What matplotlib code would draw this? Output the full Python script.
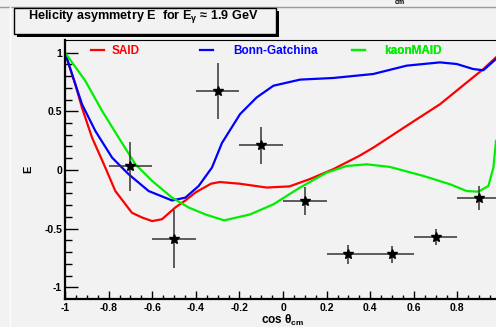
import matplotlib
matplotlib.use("Agg")
import matplotlib.pyplot as plt
from matplotlib.patches import Rectangle
from matplotlib.lines import Line2D

plt.rcParams["font.family"] = ["Liberation Sans", "DejaVu Sans"]
plt.rcParams["font.weight"] = "bold"
plt.rcParams["axes.labelweight"] = "bold"
plt.rcParams["mathtext.fontset"] = "custom"
plt.rcParams["mathtext.rm"] = "Liberation Sans:bold"
plt.rcParams["mathtext.it"] = "Liberation Sans:bold"
plt.rcParams["mathtext.bf"] = "Liberation Sans:bold"
plt.rcParams["mathtext.default"] = "rm"

# model curves
said_x = [-1, -0.953, -0.922, -0.876, -0.815, -0.769, -0.693, -0.647, -0.60, -0.555,
          -0.494, -0.448, -0.40, -0.33, -0.29, -0.20, -0.075, 0.03, 0.12, 0.23, 0.35,
          0.414, 0.567, 0.72, 0.843, 0.919, 0.977]
said_y = [1.0, 0.73, 0.53, 0.276, 0.02, -0.18, -0.365, -0.405, -0.436, -0.42,
          -0.32, -0.26, -0.19, -0.117, -0.103, -0.117, -0.15, -0.14, -0.08, 0.006, 0.12,
          0.19, 0.376, 0.56, 0.746, 0.86, 0.96]

bonn_x = [-1, -0.968, -0.922, -0.861, -0.784, -0.708, -0.616, -0.509, -0.448, -0.387,
          -0.326, -0.28, -0.197, -0.121, -0.044, 0.078, 0.231, 0.414, 0.567, 0.72,
          0.797, 0.873, 0.919, 0.977]
bonn_y = [1.0, 0.818, 0.56, 0.333, 0.105, -0.037, -0.18, -0.26, -0.236, -0.137,
          0.02, 0.23, 0.476, 0.618, 0.718, 0.77, 0.784, 0.818, 0.889, 0.917,
          0.903, 0.86, 0.85, 0.946]

maid_x = [-1, -0.907, -0.83, -0.754, -0.677, -0.60, -0.509, -0.433, -0.356, -0.27,
          -0.151, -0.044, 0.078, 0.20, 0.292, 0.384, 0.49, 0.644, 0.766, 0.843,
          0.896, 0.942, 0.965, 0.977]
maid_y = [1.0, 0.76, 0.504, 0.276, 0.048, -0.094, -0.236, -0.32, -0.379, -0.43,
          -0.379, -0.293, -0.15, -0.023, 0.034, 0.048, 0.026, -0.051, -0.122, -0.18,
          -0.185, -0.137, 0.02, 0.248]

# measured E
cos_theta = [-0.7, -0.5, -0.3, -0.1, 0.1, 0.3, 0.5, 0.7, 0.9]
e_val = [0.03, -0.59, 0.675, 0.21, -0.265, -0.718, -0.72, -0.57, -0.24]
e_err = [0.21, 0.25, 0.24, 0.16, 0.12, 0.08, 0.07, 0.07, 0.10]
cos_err = [0.1] * 9

bg = "#f2f2f2"
W, H = 496, 327
fig = plt.figure(figsize=(W / 100, H / 100), dpi=100, facecolor=bg)

ax = fig.add_axes([65 / W, 28 / H, 431 / W, 259.5 / H])
ax.set_facecolor(bg)

l_said, = ax.plot(said_x, said_y, color="#ff0000", lw=1.6)
l_bonn, = ax.plot(bonn_x, bonn_y, color="#0000ff", lw=1.6)
l_maid, = ax.plot(maid_x, maid_y, color="#00ee00", lw=1.6)

ax.errorbar(cos_theta, e_val, yerr=e_err, xerr=cos_err, fmt="*", color="black",
            ecolor="#333333", elinewidth=1.1, capsize=0, markersize=7.5, zorder=5)

ax.set_xlim(-1, 0.977)
ax.set_ylim(-1.10, 1.112)
ax.set_xticks([-1, -0.8, -0.6, -0.4, -0.2, 0, 0.2, 0.4, 0.6, 0.8])
ax.set_xticklabels(["-1", "-0.8", "-0.6", "-0.4", "-0.2", "0", "0.2", "0.4", "0.6", "0.8"])
ax.set_xticks([i * 0.05 - 1 for i in range(40)], minor=True)
ax.set_yticks([-1, -0.5, 0, 0.5, 1])
ax.set_yticklabels(["-1", "-0.5", "0", "0.5", "1"])
ax.set_yticks([i * 0.1 - 1 for i in range(21)], minor=True)

ax.tick_params(which="both", direction="in", width=1, labelsize=7.5)
ax.tick_params(axis="x", which="major", length=6, pad=3)
ax.tick_params(axis="x", which="minor", length=3)
ax.tick_params(axis="y", which="major", length=9.5, pad=2)
ax.tick_params(axis="y", which="minor", length=5)

for side in ["left", "bottom"]:
    ax.spines[side].set_linewidth(1.6)
ax.spines["top"].set_linewidth(0.8)
ax.spines["right"].set_visible(False)

ax.set_xlabel(r"cos $\theta_{cm}$", fontsize=8.5, fontweight="bold")
ax.xaxis.set_label_coords((283 - 65) / 431, -0.052)
ax.set_ylabel("E", fontsize=8, fontweight="bold")
ax.yaxis.set_label_coords(-(65 - 33) / 431, (299 - 169) / 259.5)

# one legend per model, spaced like the original pad
for line, name, xa, pad in [(l_said, "SAID", 0.060, 0.7),
                            (l_bonn, "Bonn-Gatchina", 0.313, 1.7),
                            (l_maid, "kaonMAID", 0.666, 1.6)]:
    leg = ax.legend([line], [name], loc="center left", bbox_to_anchor=(xa, 0.956),
                    frameon=False, borderpad=0, borderaxespad=0, handlelength=1.1,
                    handletextpad=pad, fontsize=8.5, labelcolor=line.get_color())
    ax.add_artist(leg)

# title pad with shadow
fig.patches.append(Rectangle((17 / W, 1 - 37 / H), 262 / W, 26 / H, transform=fig.transFigure,
                             facecolor="black", edgecolor="none", zorder=1))
fig.patches.append(Rectangle((14 / W, 1 - 34 / H), 262 / W, 26 / H, transform=fig.transFigure,
                             facecolor=bg, edgecolor="black", lw=1, zorder=2))
fig.text(28 / W, 1 - 17 / H, r"Helicity asymmetry E  for E$_{\gamma}$ ≈ 1.9 GeV",
         fontsize=9.1, va="center", ha="left", zorder=3)

# canvas edges
fig.lines.append(Line2D([0, 1], [1 - 7 / H, 1 - 7 / H], transform=fig.transFigure,
                        color="#9a9a9a", lw=1))
fig.lines.append(Line2D([10 / W, 10 / W], [0, 1 - 7 / H], transform=fig.transFigure,
                        color="white", lw=1))
fig.text(395 / W, 1 - 2 / H, "cm", fontsize=5, va="center", ha="left")

fig.savefig("out.png", dpi=100, facecolor=bg)
